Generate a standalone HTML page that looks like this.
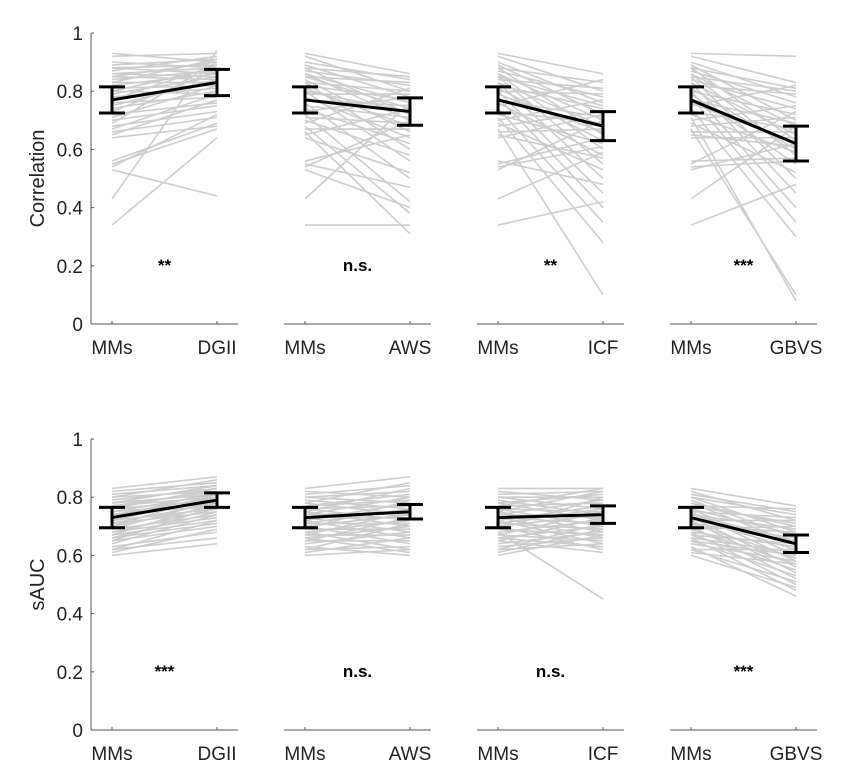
<!DOCTYPE html>
<html><head><meta charset="utf-8"><style>
html,body{margin:0;padding:0;background:#fff;}
svg{display:block;font-family:"Liberation Sans",Arial,sans-serif;}
</style></head><body>
<svg id="chart" width="844" height="781" viewBox="0 0 844 781"></svg>
<script>
const methods = ["DGII","AWS","ICF","GBVS"];
const corrMMs = [0.93,0.92,0.90,0.89,0.88,0.88,0.87,0.86,0.86,0.85,0.85,0.84,0.83,0.83,0.82,0.81,0.80,0.80,0.79,0.78,0.77,0.76,0.75,0.74,0.73,0.72,0.71,0.70,0.69,0.68,0.67,0.66,0.65,0.64,0.56,0.55,0.54,0.53,0.43,0.34];
const corrDGII = [0.90,0.93,0.88,0.91,0.86,0.89,0.92,0.85,0.88,0.84,0.90,0.87,0.83,0.91,0.86,0.82,0.88,0.79,0.85,0.81,0.89,0.78,0.84,0.80,0.87,0.76,0.82,0.75,0.90,0.73,0.79,0.71,0.77,0.68,0.69,0.67,0.72,0.44,0.94,0.64];
const corrAWS = [0.86,0.80,0.84,0.78,0.85,0.72,0.82,0.76,0.70,0.83,0.74,0.66,0.80,0.60,0.77,0.68,0.73,0.56,0.79,0.64,0.75,0.50,0.71,0.62,0.78,0.42,0.69,0.58,0.81,0.38,0.67,0.31,0.74,0.52,0.65,0.47,0.70,0.40,0.76,0.34];
const corrICF = [0.86,0.80,0.76,0.72,0.83,0.65,0.78,0.60,0.70,0.75,0.55,0.81,0.68,0.50,0.74,0.63,0.45,0.79,0.66,0.40,0.71,0.58,0.84,0.35,0.69,0.62,0.28,0.77,0.53,0.73,0.10,0.67,0.57,0.72,0.48,0.64,0.61,0.70,0.59,0.42];
const corrGBVS = [0.92,0.83,0.78,0.70,0.81,0.63,0.76,0.58,0.68,0.80,0.50,0.74,0.65,0.45,0.79,0.60,0.40,0.72,0.55,0.35,0.69,0.62,0.82,0.30,0.67,0.59,0.08,0.75,0.52,0.71,0.10,0.66,0.61,0.64,0.57,0.73,0.56,0.62,0.68,0.48];
const sMMs = [0.83,0.82,0.81,0.80,0.80,0.79,0.78,0.78,0.77,0.77,0.76,0.76,0.75,0.75,0.74,0.74,0.73,0.73,0.72,0.72,0.71,0.71,0.70,0.70,0.69,0.69,0.68,0.68,0.67,0.67,0.66,0.66,0.65,0.65,0.64,0.63,0.62,0.62,0.61,0.60];
const sDGII = [0.87,0.85,0.84,0.86,0.82,0.83,0.81,0.84,0.80,0.82,0.79,0.83,0.78,0.81,0.80,0.77,0.82,0.79,0.76,0.80,0.78,0.75,0.81,0.77,0.74,0.79,0.76,0.73,0.78,0.72,0.75,0.71,0.77,0.70,0.74,0.68,0.72,0.66,0.69,0.64];
const sAWS = [0.87,0.80,0.84,0.78,0.82,0.76,0.85,0.74,0.79,0.81,0.72,0.77,0.83,0.70,0.75,0.80,0.68,0.73,0.78,0.66,0.76,0.71,0.74,0.64,0.79,0.69,0.72,0.62,0.75,0.67,0.70,0.61,0.73,0.65,0.68,0.60,0.71,0.63,0.66,0.62];
const sICF = [0.83,0.79,0.82,0.76,0.80,0.74,0.81,0.72,0.78,0.83,0.70,0.75,0.82,0.68,0.73,0.79,0.66,0.71,0.77,0.64,0.76,0.69,0.74,0.62,0.80,0.67,0.72,0.45,0.75,0.65,0.70,0.63,0.73,0.61,0.68,0.66,0.71,0.64,0.69,0.67];
const sGBVS = [0.77,0.72,0.75,0.68,0.74,0.66,0.70,0.64,0.71,0.76,0.60,0.67,0.73,0.58,0.65,0.69,0.56,0.62,0.72,0.54,0.66,0.59,0.68,0.52,0.70,0.57,0.63,0.50,0.64,0.55,0.61,0.48,0.60,0.53,0.58,0.46,0.62,0.51,0.57,0.49];
const corrMeanMMs = [0.77,0.77,0.77,0.77];
const corrMeanOther = [0.83,0.73,0.68,0.62];
const corrErrMMs = [0.045,0.045,0.045,0.045];
const corrErrOther = [0.045,0.047,0.05,0.06];
const sMeanMMs = [0.73,0.73,0.73,0.73];
const sMeanOther = [0.79,0.75,0.74,0.64];
const sErrMMs = [0.035,0.035,0.035,0.035];
const sErrOther = [0.025,0.025,0.03,0.03];
const corrSig = ["**","n.s.","**","***"];
const sSig = ["***","n.s.","n.s.","***"];
const yTicks = [0,0.2,0.4,0.6,0.8,1];
const yTickLabels = ["0","0.2","0.4","0.6","0.8","1"];

const svg = document.getElementById('chart');
const NS = 'http://www.w3.org/2000/svg';
function mk(tag, attrs, parent){const e=document.createElementNS(NS,tag);for(const k in attrs)e.setAttribute(k,attrs[k]);(parent||svg).appendChild(e);return e;}

const rows = [
  {y0:324, y1:33, label:"Correlation", mms:corrMMs, others:[corrDGII,corrAWS,corrICF,corrGBVS], mM:corrMeanMMs, mO:corrMeanOther, eM:corrErrMMs, eO:corrErrOther, sig:corrSig, name:"correlation"},
  {y0:730, y1:439, label:"sAUC", mms:sMMs, others:[sDGII,sAWS,sICF,sGBVS], mM:sMeanMMs, mO:sMeanOther, eM:sErrMMs, eO:sErrOther, sig:sSig, name:"sauc"}
];
const panelX = 91, panelStep = 193, panelW = 147, tickA = 21, tickB = 126;
const axisColor = '#555';

rows.forEach((r, ri) => {
  const yS = v => r.y0 + (r.y1 - r.y0) * v;
  for (let p = 0; p < 4; p++) {
    const x0 = panelX + p * panelStep;
    const xa = x0 + tickA, xb = x0 + tickB;
    const g = mk('g', {});
    
    
    const other = r.others[p];
    for (let i = 0; i < r.mms.length; i++) {
      const l = mk('line', {x1:xa, y1:yS(r.mms[i]), x2:xb, y2:yS(other[i]), stroke:'#cccccc', 'stroke-width':1.6}, g);
      
      
    }
    const ax = mk('line', {x1:x0, y1:r.y0, x2:x0+panelW, y2:r.y0, stroke:axisColor, 'stroke-width':1}, g);
    
    
    [xa, xb].forEach(xx => mk('line', {x1:xx, y1:r.y0, x2:xx, y2:r.y0-3, stroke:axisColor, 'stroke-width':1}, g));
    const t1 = mk('text', {x:xa, y:r.y0+30, 'text-anchor':'middle', 'font-size':19, fill:'#222'}, g);
    t1.textContent = 'MMs';
    
    
    const t2 = mk('text', {x:xb, y:r.y0+30, 'text-anchor':'middle', 'font-size':19, fill:'#222'}, g);
    t2.textContent = methods[p];
    
    
    const ml = mk('line', {x1:xa, y1:yS(r.mM[p]), x2:xb, y2:yS(r.mO[p]), stroke:'#000', 'stroke-width':3}, g);
    
    
    [[xa, r.mM[p], r.eM[p]], [xb, r.mO[p], r.eO[p]]].forEach(([xx, m, e]) => {
      const eg = mk('g', {stroke:'#000', 'stroke-width':3}, g);
      
      
      mk('line', {x1:xx, y1:yS(m-e), x2:xx, y2:yS(m+e)}, eg);
      mk('line', {x1:xx-13, y1:yS(m-e), x2:xx+13, y2:yS(m-e)}, eg);
      mk('line', {x1:xx-13, y1:yS(m+e), x2:xx+13, y2:yS(m+e)}, eg);
    });
    const st = mk('text', {x:(xa+xb)/2, y:yS(0.2)+5, 'text-anchor':'middle', 'font-size':17, 'font-weight':'bold', fill:'#000'}, g);
    st.textContent = r.sig[p];
    
    
  }
  const yg = mk('g', {});
  
  
  mk('line', {x1:panelX, y1:r.y0, x2:panelX, y2:r.y1, stroke:axisColor, 'stroke-width':1}, yg);
  yTicks.forEach((v, i) => {
    mk('line', {x1:panelX, y1:yS(v), x2:panelX+3, y2:yS(v), stroke:axisColor, 'stroke-width':1}, yg);
    const t = mk('text', {x:panelX-8, y:yS(v)+7, 'text-anchor':'end', 'font-size':19, fill:'#222'}, yg);
    t.textContent = yTickLabels[i];
    
    
  });
  const cy = (r.y0 + r.y1) / 2;
  const yl = mk('text', {x:44, y:cy, 'text-anchor':'middle', 'font-size':20, fill:'#222', transform:'rotate(-90 44 '+cy+')'}, yg);
  yl.textContent = r.label;
  
  
});
</script>
</body></html>
